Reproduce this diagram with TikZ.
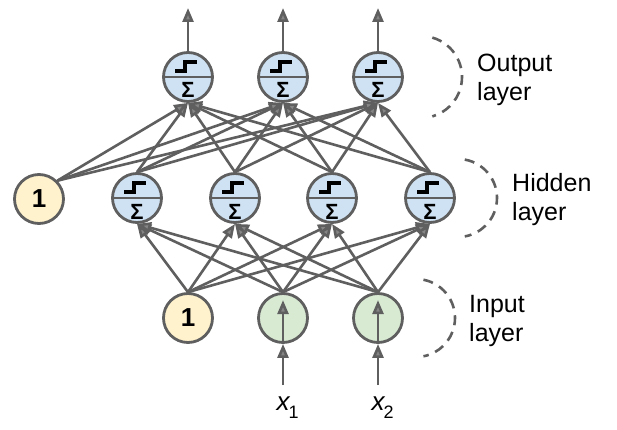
\documentclass[tikz,border=0pt]{standalone}
\usepackage{fontspec}
\setmainfont{Liberation Sans}
\usepackage{tikz}
\usetikzlibrary{arrows.meta,positioning}
\definecolor{net-line}{HTML}{5F5F5F}
\definecolor{net-tip}{HTML}{858585}
\definecolor{net-blue}{HTML}{CFE2F3}
\definecolor{net-yellow}{HTML}{FFF2CC}
\definecolor{net-green}{HTML}{D9EAD3}
\newcommand{\stepsum}{\raisebox{-21pt}[0pt][0pt]{\bfseries\fontsize{22}{22}\selectfont Σ}}
\newcommand{\inputvar}[1]{{\itshape x}\rlap{\kern-1pt\raisebox{-8pt}{\fontsize{18}{18}\selectfont #1}}}
\tikzset{
  net-neuron/.style={circle, draw=net-line, fill=net-blue, line width=2.8pt, minimum size=49pt, inner sep=0pt,
    path picture={
      \draw[net-line, line width=2.8pt] (path picture bounding box.west) -- (path picture bounding box.east);
      \draw[black, line width=3.6pt] ([shift={(-13pt,6pt)}]path picture bounding box.center) -- ++(10pt,0pt) -- ++(0pt,9pt) -- ++(12pt,0pt);
    }},
  net-bias/.style={circle, draw=net-line, fill=net-yellow, line width=2.8pt, minimum size=49pt, inner sep=0pt,
    font=\bfseries\fontsize{26}{26}\selectfont},
  net-input/.style={circle, draw=net-line, fill=net-green, line width=2.8pt, minimum size=49pt, inner sep=0pt},
  net-edge/.style={draw=net-line, line width=2.6pt, -{Triangle[length=14pt, width=11pt, fill=net-tip]}},
  net-brace/.style={draw=net-line, line width=2.6pt, dash pattern=on 10pt off 7pt},
  net-label/.style={anchor=west, align=left, inner sep=0pt, font=\fontsize{25}{29}\selectfont}
}
\begin{document}
\begin{tikzpicture}[x=1pt, y=1pt]
  \useasboundingbox (0,0) rectangle (617,429);
  % output layer
  \node[net-neuron] (o1) at (188,352) {\stepsum};
  \node[net-neuron] (o2) at (283,352) {\stepsum};
  \node[net-neuron] (o3) at (378,352) {\stepsum};
  % hidden layer
  \node[net-bias] (b2) at (39,230) {1};
  \node[net-neuron] (h1) at (137,231) {\stepsum};
  \node[net-neuron] (h2) at (235,231) {\stepsum};
  \node[net-neuron] (h3) at (332,231) {\stepsum};
  \node[net-neuron] (h4) at (430,231) {\stepsum};
  % input layer
  \node[net-bias] (b1) at (188,111) {1};
  \node[net-input] (i1) at (283,111) {};
  \node[net-input] (i2) at (378,111) {};
  \node[anchor=base, inner sep=0pt, font=\fontsize{26}{26}\selectfont] (x1) at (283,19) {\inputvar{1}};
  \node[anchor=base, inner sep=0pt, font=\fontsize{26}{26}\selectfont] (x2) at (378,19) {\inputvar{2}};
  \coordinate (in1) at (283,44);
  \coordinate (in2) at (378,44);
  \coordinate (y1) at (188,421);
  \coordinate (y2) at (283,421);
  \coordinate (y3) at (378,421);
  % connections
  \foreach \s in {b1,i1,i2}
    \foreach \t in {h1,h2,h3,h4}
      \draw[net-edge] (\s.north) -- (\t.south);
  \foreach \s in {h1,h2,h3,h4}
    \foreach \t in {o1,o2,o3}
      \draw[net-edge] (\s.north) -- (\t.south);
  \foreach \t in {o1,o2,o3}
    \draw[net-edge] (b2.north east) -- (\t.south);
  \foreach \k in {1,2,3}
    \draw[net-edge] (o\k.north) -- (y\k);
  \foreach \k in {1,2} {
    \draw[net-edge] (in\k) -- (i\k.south);
    \draw[net-edge, shorten >=8pt] (i\k.south) -- (i\k.north);
  }
  % layer labels
  \node[net-label] (lo) at (477,349) {Output\\layer};
  \node[net-label] (lh) at (512,229) {Hidden\\layer};
  \node[net-label] (li) at (469,108) {Input\\layer};
  \draw[net-brace] (421,352) ++(74:41) arc[start angle=74, end angle=-74, radius=41];
  \draw[net-brace] (458,231) ++(80:39) arc[start angle=80, end angle=-80, radius=39];
  \draw[net-brace] (416,111) ++(79:39) arc[start angle=79, end angle=-79, radius=39];
\end{tikzpicture}
\end{document}
